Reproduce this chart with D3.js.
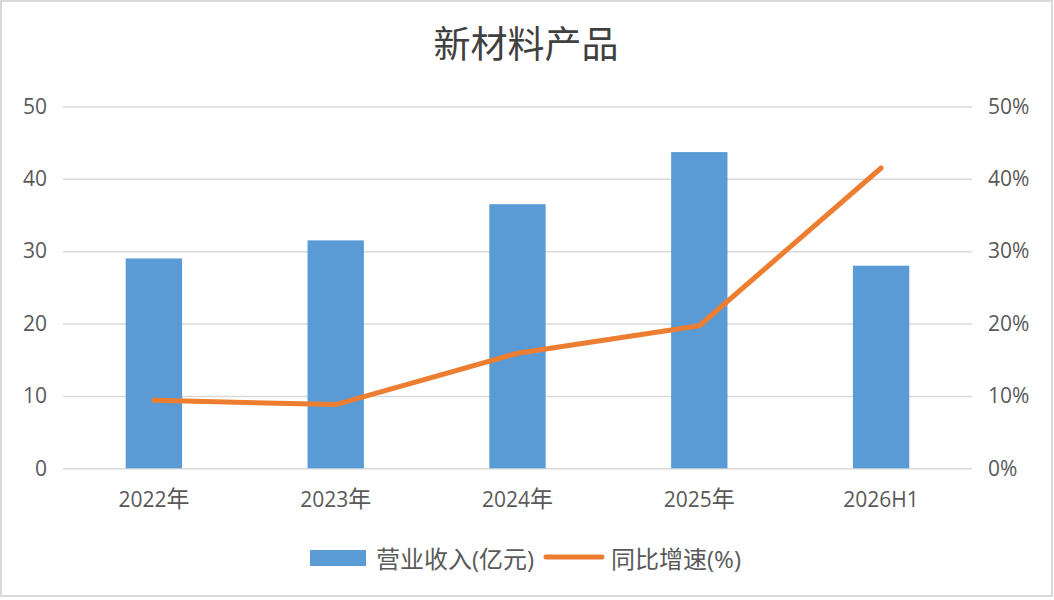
<!DOCTYPE html>
<html><head><meta charset="utf-8">
<script src="https://cdn.jsdelivr.net/npm/d3@7"></script>
<style>
html,body{margin:0;padding:0;background:#fff;}
svg{display:block;}
text{font-family:"Open Sans","Noto Sans CJK SC",sans-serif;fill:#595959;}
</style></head>
<body>
<svg id="c" width="1054" height="600"></svg>
<script>
const title = "新材料产品";
const categories = ["2022年","2023年","2024年","2025年","2026H1"];
const revenue = [29.0, 31.5, 36.5, 43.7, 28.0];
const growth = [0.094, 0.088, 0.159, 0.197, 0.415];
const leftTicks = [0,10,20,30,40,50];
const rightTicks = [0,0.1,0.2,0.3,0.4,0.5];
const seriesNames = ["营业收入(亿元)","同比增速(%)"];

const svg = d3.select("#c");
svg.append("rect").attr("x",1).attr("y",1).attr("width",1051).attr("height",595)
  .attr("fill","#fff").attr("stroke","#d9d9d9").attr("stroke-width",2);

const x = d3.scaleBand().domain(categories).range([63,972]).paddingInner(0.69).paddingOuter(0.345);
const y = d3.scaleLinear().domain([0,50]).range([468.3,106.5]);
const y2 = d3.scaleLinear().domain([0,0.5]).range([468.3,106.5]);

// title
svg.append("text").attr("x",526).attr("y",58).attr("text-anchor","middle")
  .style("font-family","'Noto Sans CJK SC',sans-serif").style("font-size","37px").style("fill","#404040")
  .text(title);

// gridlines
const grid = svg.append("g").attr("transform","translate(63,0)")
  .call(d3.axisLeft(y).tickValues(leftTicks).tickSize(-(972-63)).tickFormat(""));
grid.select(".domain").remove();
grid.selectAll("line").attr("stroke","#d9d9d9").attr("stroke-width",1.5);

// left axis labels
const la = svg.append("g").attr("transform","translate(63,0)")
  .call(d3.axisLeft(y).tickValues(leftTicks).tickSize(0).tickPadding(16).tickFormat(d3.format("d")));
la.select(".domain").remove();
la.selectAll("text").style("font-size","21px").style("fill","#595959");

// right axis labels
const ra = svg.append("g").attr("transform","translate(972,0)")
  .call(d3.axisRight(y2).tickValues(rightTicks).tickSize(0).tickPadding(16).tickFormat(d3.format(".0%")));
ra.select(".domain").remove();
ra.selectAll("text").style("font-size","21px").style("fill","#595959");

// bars
svg.append("g").selectAll("rect").data(revenue).join("rect")
  .attr("x",(d,i)=>x(categories[i]))
  .attr("y",d=>y(d))
  .attr("width",x.bandwidth())
  .attr("height",d=>y(0)-y(d))
  .attr("fill","#5B9BD5");

// line
const line = d3.line().x((d,i)=>x(categories[i])+x.bandwidth()/2).y(d=>y2(d));
svg.append("path").datum(growth).attr("d",line)
  .attr("fill","none").attr("stroke","#ED7D31").attr("stroke-width",5)
  .attr("stroke-linecap","round").attr("stroke-linejoin","round");

// x axis labels
const xa = svg.append("g").attr("transform","translate(0,468.3)")
  .call(d3.axisBottom(x).tickSize(0).tickPadding(24));
xa.select(".domain").remove();
xa.selectAll("text").style("font-size","21px").style("fill","#595959")
  .each(function(d){
    const t = d3.select(this);
    t.text(null);
    const m = d.match(/^([0-9A-Za-z]+)(.*)$/);
    t.append("tspan").text(m[1]);
    if (m[2]) t.append("tspan").style("font-size","23px").text(m[2]);
  });

// legend
const lg = svg.append("g");
lg.append("rect").attr("x",310).attr("y",550).attr("width",56).attr("height",16).attr("fill","#5B9BD5");
lg.append("text").attr("x",376).attr("y",558).attr("dominant-baseline","central")
  .style("font-size","24px").text(seriesNames[0]);
lg.append("line").attr("x1",546).attr("x2",602).attr("y1",557).attr("y2",557)
  .attr("stroke","#ED7D31").attr("stroke-width",5).attr("stroke-linecap","round");
lg.append("text").attr("x",611).attr("y",558).attr("dominant-baseline","central")
  .style("font-size","24px").text(seriesNames[1]);
</script>
</body></html>
